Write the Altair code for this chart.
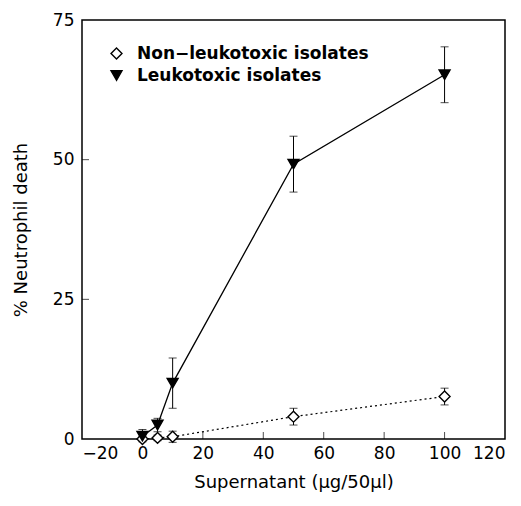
import altair as alt
import pandas as pd

x_vals = [0, 5, 10, 50, 100]
leuko = [0.5, 2.5, 10.0, 49.2, 65.2]
leuko_err = [1.2, 1.2, 4.5, 5.0, 5.0]
non_leuko = [0.0, 0.2, 0.4, 4.0, 7.6]
non_leuko_err = [0.5, 0.5, 1.0, 1.5, 1.5]
series_names = ["Non\u2212leukotoxic isolates", "Leukotoxic isolates"]
x_ticks = [-20, 0, 20, 40, 60, 80, 100, 120]
y_ticks = [0, 25, 50, 75]

rows = []
for xv, yv, ev in zip(x_vals, non_leuko, non_leuko_err):
    rows.append({"x": xv, "y": yv, "lo": yv - ev, "hi": yv + ev, "s": series_names[0]})
for xv, yv, ev in zip(x_vals, leuko, leuko_err):
    rows.append({"x": xv, "y": yv, "lo": max(yv - ev, 0), "hi": yv + ev, "s": series_names[1]})
df = pd.DataFrame(rows)

FONT = "DejaVu Sans"
xs = alt.Scale(domain=[-20, 120], nice=False, zero=False)
ys = alt.Scale(domain=[0, 75], nice=False)

xenc = alt.X("x:Q", scale=xs, axis=alt.Axis(values=x_ticks, title="Supernatant (\u03bcg/50\u03bcl)",
                                            ticks=False, domain=False, labelPadding=6, titlePadding=12))
yenc = alt.Y("y:Q", scale=ys, axis=alt.Axis(values=y_ticks, title="% Neutrophil death",
                                            ticks=False, domain=False, labelPadding=8, titlePadding=22))

base = alt.Chart(df)

lines_leuko = base.transform_filter(alt.datum.s == series_names[1]).mark_line(
    color="black", strokeWidth=1.3).encode(x=xenc, y=yenc)
lines_non = base.transform_filter(alt.datum.s == series_names[0]).mark_line(
    color="black", strokeWidth=1.2, strokeDash=[2, 3]).encode(x=xenc, y=yenc)

err = base.mark_rule(color="black", strokeWidth=1).encode(x="x:Q", y="lo:Q", y2="hi:Q")
cap_hi = base.mark_tick(color="black", orient="horizontal", size=8, thickness=1).encode(x="x:Q", y="hi:Q")
cap_lo = base.mark_tick(color="black", orient="horizontal", size=8, thickness=1).encode(x="x:Q", y="lo:Q")

leg = alt.Legend(title=None, orient="none", legendX=26, legendY=25,
                 labelFont=FONT, labelFontSize=17, labelFontWeight="bold", labelLimit=0,
                 symbolSize=120, symbolStrokeColor="black", symbolStrokeWidth=1.4,
                 rowPadding=4, labelOffset=12)

points = base.mark_point(size=120, strokeWidth=1.4, opacity=1, stroke="black").encode(
    x="x:Q", y="y:Q",
    shape=alt.Shape("s:N", scale=alt.Scale(domain=series_names, range=["diamond", "triangle-down"]),
                    legend=leg),
    fill=alt.Fill("s:N", scale=alt.Scale(domain=series_names, range=["white", "black"]),
                  legend=leg),
)

tick_x = alt.Chart(pd.DataFrame({"t": x_ticks[1:-1], "z": [0] * 6})).mark_tick(
    color="black", orient="vertical", size=7, thickness=1, yOffset=-3.5).encode(x="t:Q", y="z:Q")
tick_y = alt.Chart(pd.DataFrame({"t": y_ticks[1:-1], "z": [-20] * 2})).mark_tick(
    color="black", orient="horizontal", size=7, thickness=1, xOffset=3.5).encode(x="z:Q", y="t:Q")

chart = alt.layer(lines_non, lines_leuko, err, cap_hi, cap_lo, points, tick_x, tick_y).properties(
    width=423, height=419, autosize="none",
    padding={"left": 74, "top": 12, "right": 8, "bottom": 59},
).configure_view(stroke="black", strokeWidth=1.5).configure_axis(
    labelFont=FONT, labelFontSize=17, titleFont=FONT, titleFontSize=18, titleFontWeight="normal",
    labelColor="black", titleColor="black", grid=False
).configure_legend(symbolFillColor="white")

chart.save("out.html", embed_options={"renderer": "svg", "actions": False})
